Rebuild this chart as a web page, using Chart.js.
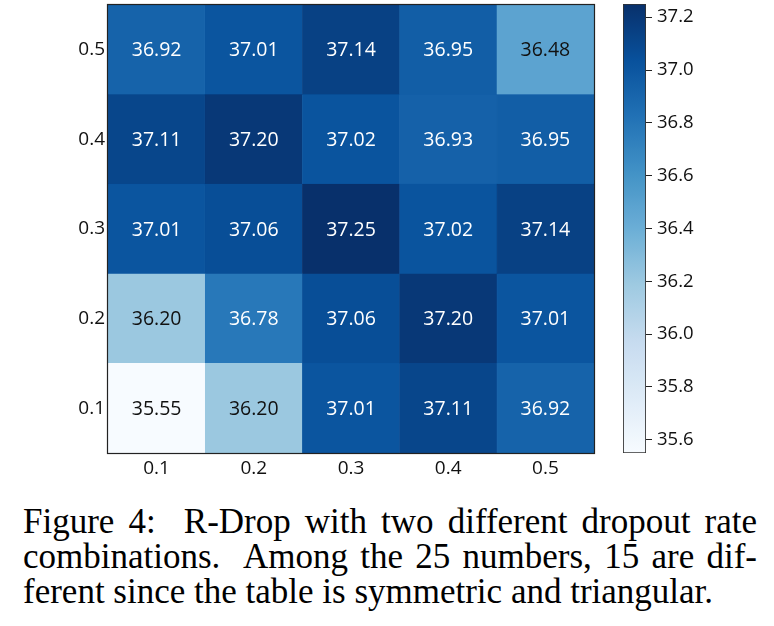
<!DOCTYPE html>
<html>
<head>
<meta charset="utf-8">
<script src="https://cdn.jsdelivr.net/npm/chart.js@4.4.1/dist/chart.umd.min.js"></script>
<style>
  html, body { margin: 0; padding: 0; background: #fff; }
  body { width: 774px; height: 626px; position: relative; overflow: hidden; }
  #heat { position: absolute; left: 0; top: 0; }
  #cbar { position: absolute; left: 600px; top: 0; }
  #caption { position: absolute; left: 23px; top: 504px; width: 734px;
    font-family: "Liberation Serif", "Times New Roman", serif; font-size: 35px; line-height: 35px; color: #000; }
  #caption .j { text-align: justify; text-align-last: justify; white-space: nowrap; }
</style>
</head>
<body>
<canvas id="heat" width="600" height="490"></canvas>
<canvas id="cbar" width="174" height="490"></canvas>
<div id="caption">
  <div class="j">Figure 4:&nbsp; R-Drop with two different dropout rate</div>
  <div class="j">combinations.&nbsp; Among the 25 numbers, 15 are dif-</div>
  <div>ferent since the table is symmetric and triangular.</div>
</div>
<script>
// ---- data ----
const xLabels = ['0.1', '0.2', '0.3', '0.4', '0.5'];
const yLabels = ['0.1', '0.2', '0.3', '0.4', '0.5'];
// rows from y=0.1 (bottom) to y=0.5 (top), columns x=0.1..0.5
const row01 = [35.55, 36.20, 37.01, 37.11, 36.92];
const row02 = [36.20, 36.78, 37.06, 37.20, 37.01];
const row03 = [37.01, 37.06, 37.25, 37.02, 37.14];
const row04 = [37.11, 37.20, 37.02, 36.93, 36.95];
const row05 = [36.92, 37.01, 37.14, 36.95, 36.48];
const rows = [row01, row02, row03, row04, row05];
const vmin = 35.55, vmax = 37.25;
const cbarTicks = [35.6, 35.8, 36.0, 36.2, 36.4, 36.6, 36.8, 37.0, 37.2];

// ---- Blues colormap ----
const blues = [
  [247,251,255],[222,235,247],[198,219,239],[158,202,225],[107,174,214],
  [66,146,198],[33,113,181],[8,81,156],[8,48,107]
];
function bluesAt(t) {
  t = Math.max(0, Math.min(1, t));
  const p = t * (blues.length - 1);
  const i = Math.min(blues.length - 2, Math.floor(p));
  const f = p - i;
  const a = blues[i], b = blues[i + 1];
  return 'rgb(' + [0,1,2].map(k => Math.round(a[k] + (b[k] - a[k]) * f)).join(',') + ')';
}
function norm(v) { return (v - vmin) / (vmax - vmin); }

const cellFont = { family: "'Open Sans', sans-serif", size: 19.5 };
const tickFont = { family: "'Open Sans', sans-serif", size: 19 };

const datasets = rows.map((row, r) => ({
  data: row.map((v, c) => ({ x: xLabels[c], y: [r, r + 1], v: v })),
  backgroundColor: row.map(v => bluesAt(norm(v))),
  borderColor: row.map(v => bluesAt(norm(v))),
  borderWidth: 0.6,
  borderSkipped: false,
  barPercentage: 1,
  categoryPercentage: 1,
  grouped: false
}));

const cellLabels = {
  id: 'cellLabels',
  afterDatasetsDraw(chart) {
    const ctx = chart.ctx;
    ctx.save();
    ctx.font = cellFont.size + 'px ' + cellFont.family;
    ctx.textAlign = 'center';
    ctx.textBaseline = 'middle';
    chart.data.datasets.forEach((ds, di) => {
      const meta = chart.getDatasetMeta(di);
      meta.data.forEach((el, i) => {
        const v = ds.data[i].v;
        const p = el.getCenterPoint();
        ctx.fillStyle = norm(v) > 0.62 ? '#ffffff' : '#111111';
        ctx.fillText(v.toFixed(2), p.x, p.y + 1);
      });
    });
    const a = chart.chartArea;
    ctx.strokeStyle = '#222';
    ctx.lineWidth = 1.2;
    ctx.strokeRect(Math.round(a.left) - 0.5, Math.round(a.top) - 0.5, Math.round(a.right - a.left) + 1, Math.round(a.bottom - a.top) + 1);
    ctx.restore();
  }
};

function noPad(s) { s.paddingTop = 0; s.paddingBottom = 0; s.paddingLeft = 0; s.paddingRight = 0; }

new Chart(document.getElementById('heat'), {
  type: 'bar',
  data: { labels: xLabels, datasets: datasets },
  options: {
    responsive: false,
    animation: false,
    layout: { padding: { top: 5, right: 6, left: 0, bottom: 0 } },
    plugins: { legend: { display: false }, tooltip: { enabled: false } },
    scales: {
      x: {
        type: 'category',
        grid: { display: false, drawTicks: false },
        border: { display: false },
        ticks: { color: '#111', font: tickFont, padding: 4, maxRotation: 0 },
        afterFit(s) { s.height = 37; noPad(s); }
      },
      y: {
        type: 'linear', min: 0, max: 5,
        grid: { display: false, drawTicks: false },
        border: { display: false },
        afterBuildTicks(s) { s.ticks = [0.5, 1.5, 2.5, 3.5, 4.5].map(v => ({ value: v })); },
        ticks: {
          color: '#111', font: tickFont, padding: 3,
          callback: (v) => yLabels[Math.round(v - 0.5)]
        },
        afterFit(s) { s.width = 108; noPad(s); }
      }
    }
  },
  plugins: [cellLabels]
});

// ---- colorbar ----
const cbarLabel = ['colorbar'];
new Chart(document.getElementById('cbar'), {
  type: 'bar',
  data: {
    labels: cbarLabel,
    datasets: [{
      data: [[vmin, vmax]],
      backgroundColor(ctx) {
        const chart = ctx.chart;
        const a = chart.chartArea;
        if (!a) return '#08306b';
        const ys = chart.scales.y;
        const y0 = ys.getPixelForValue(vmin), y1 = ys.getPixelForValue(vmax);
        const g = chart.ctx.createLinearGradient(0, y0, 0, y1);
        for (let i = 0; i <= 40; i++) g.addColorStop(i / 40, bluesAt(i / 40));
        return g;
      },
      borderColor: '#333',
      borderWidth: 1.2,
      borderSkipped: false,
      barPercentage: 1,
      categoryPercentage: 1
    }]
  },
  options: {
    responsive: false,
    animation: false,
    layout: { padding: { top: 4, bottom: 37, left: 23, right: 0 } },
    plugins: { legend: { display: false }, tooltip: { enabled: false } },
    scales: {
      x: { display: false },
      y: {
        position: 'right',
        min: vmin, max: vmax,
        afterBuildTicks(s) { s.ticks = cbarTicks.map(v => ({ value: v })); },
        grid: { drawOnChartArea: false, drawTicks: true, tickLength: 6, color: '#222', lineWidth: 1 },
        border: { display: false },
        ticks: { color: '#111', font: { family: "'Open Sans', sans-serif", size: 18.5 }, padding: 5,
          callback: (v) => v.toFixed(1) },
        afterFit(s) { s.width = 128; noPad(s); }
      }
    }
  }
});
</script>
</body>
</html>
